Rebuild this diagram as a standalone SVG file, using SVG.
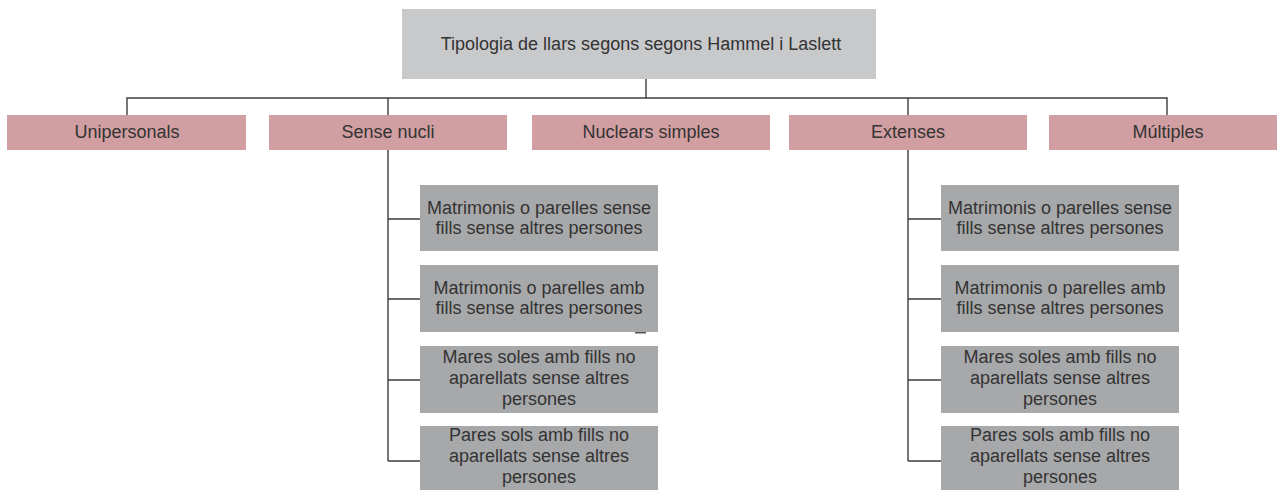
<svg xmlns="http://www.w3.org/2000/svg" width="1277" height="490" viewBox="0 0 1277 490">
<style>
text{font-family:"Liberation Sans",Arial,sans-serif;font-size:18px;fill:#333;text-anchor:middle}
.title{fill:#c8c9cb}
.cat{fill:#d19ea1}
.sub{fill:#a7a8aa}
.con{fill:none;stroke:#3c3c3c;stroke-width:1.4}
</style>
<rect width="1277" height="490" fill="#fff"/>
<g id="connectors">
<path class="con" d="M646,79V98M127,115V98H1167V115M388,98V115M908,98V115"/>
<path class="con" d="M388,150V461M388,219H420M388,299H420M388,380H420M388,461H420"/>
<path class="con" d="M908,150V461M908,219H941M908,299H941M908,380H941M908,461H941"/>
</g>
<g id="title"><rect class="title" x="402" y="9" width="474" height="70"/><text x="641" y="50">Tipologia de llars segons segons Hammel i Laslett</text></g>
<g id="unipersonals"><rect class="cat" x="7" y="115" width="239" height="35"/><text x="127" y="138">Unipersonals</text></g>
<g id="sense-nucli"><rect class="cat" x="269" y="115" width="238" height="35"/><text x="388" y="138">Sense nucli</text></g>
<g id="nuclears-simples"><rect class="cat" x="532" y="115" width="238" height="35"/><text x="651" y="138">Nuclears simples</text></g>
<g id="extenses"><rect class="cat" x="789" y="115" width="238" height="35"/><text x="908" y="138">Extenses</text></g>
<g id="multiples"><rect class="cat" x="1049" y="115" width="238" height="35"/><text x="1168" y="138">Múltiples</text></g>
<g id="sn-1"><rect class="sub" x="420" y="185" width="238" height="66"/><text x="539" y="214">Matrimonis o parelles sense</text><text x="539" y="234">fills sense altres persones</text></g>
<g id="sn-2"><rect class="sub" x="420" y="265" width="238" height="67"/><text x="539" y="294">Matrimonis o parelles amb</text><text x="539" y="314">fills sense altres persones</text></g>
<rect x="635" y="332" width="11" height="1.5" fill="#555"/>
<g id="sn-3"><rect class="sub" x="420" y="346" width="238" height="67"/><text x="539" y="363">Mares soles amb fills no</text><text x="539" y="384">aparellats sense altres</text><text x="539" y="405">persones</text></g>
<g id="sn-4"><rect class="sub" x="420" y="426" width="238" height="67"/><text x="539" y="441">Pares sols amb fills no</text><text x="539" y="462">aparellats sense altres</text><text x="539" y="483">persones</text></g>
<g id="ex-1"><rect class="sub" x="941" y="185" width="238" height="66"/><text x="1060" y="214">Matrimonis o parelles sense</text><text x="1060" y="234">fills sense altres persones</text></g>
<g id="ex-2"><rect class="sub" x="941" y="265" width="238" height="67"/><text x="1060" y="294">Matrimonis o parelles amb</text><text x="1060" y="314">fills sense altres persones</text></g>
<g id="ex-3"><rect class="sub" x="941" y="346" width="238" height="67"/><text x="1060" y="363">Mares soles amb fills no</text><text x="1060" y="384">aparellats sense altres</text><text x="1060" y="405">persones</text></g>
<g id="ex-4"><rect class="sub" x="941" y="426" width="238" height="67"/><text x="1060" y="441">Pares sols amb fills no</text><text x="1060" y="462">aparellats sense altres</text><text x="1060" y="483">persones</text></g>
</svg>
